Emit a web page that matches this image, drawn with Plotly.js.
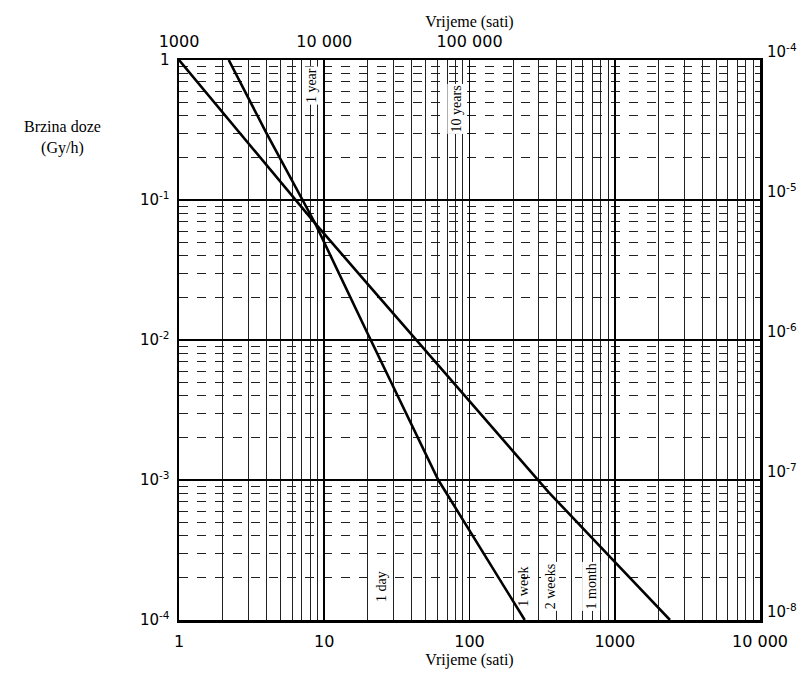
<!DOCTYPE html>
<html>
<head>
<meta charset="utf-8">
<script src="https://cdn.plot.ly/plotly-3.0.1.min.js"></script>
<style>html,body{margin:0;padding:0;background:#fff;}#chart{width:808px;height:673px;}</style>
</head>
<body>
<div id="chart"></div>
<script>
// ---- data ----
// Curve A: bottom axis (hours 1..10 000) / left axis (Gy/h 1e-4..1)
const curveAHours = [1, 2, 4, 8.6, 20, 50, 100, 350, 1000, 2400];
const curveADose  = [1, 0.42, 0.177, 0.0686, 0.025, 0.0084, 0.0037, 0.00082, 0.00026, 0.0001];
// Curve B: top axis (hours 1000..1e7) / right axis (Gy/h 1e-8..1e-4)
const curveBHours = [2200, 4000, 8630, 20000, 61000, 240000];
const curveBDose  = [1e-4, 3.0e-5, 6.85e-6, 1.1e-6, 1.0e-7, 1.0e-8];

const bottomTickVals = [1, 10, 100, 1000, 10000];
const bottomTickText = ['1', '10', '100', '1000', '10 000'];
const topTickVals = [1000, 10000, 100000, 1000000, 10000000];
const topTickText = ['1000', '10 000', '100 000', '', ''];
const leftTickVals = [1e-4, 1e-3, 1e-2, 1e-1, 1];
const leftTickText = ['10<sup>-4</sup>', '10<sup>-3</sup>', '10<sup>-2</sup>', '10<sup>-1</sup>', '1'];
const rightTickVals = [1e-8, 1e-7, 1e-6, 1e-5, 1e-4];
const rightTickText = ['10<sup>-8</sup>', '10<sup>-7</sup>', '10<sup>-6</sup>', '10<sup>-5</sup>', '10<sup>-4</sup>'];

const bottomEventLabels = ['1 day', '1 week', '2 weeks', '1 month'];
const bottomEventHours = [24, 168, 336, 720];
const topEventLabels = ['1 year', '10 years'];
const topEventHours = [8760, 87600];

const xTitle = 'Vrijeme (sati)';
const yTitle = 'Brzina doze<br>(Gy/h)';

// ---- build full log grids (1..9 per decade) ----
function logGrid(fromExp, toExp) {
  const v = [];
  for (let e = fromExp; e < toExp; e++) {
    for (let m = 1; m < 10; m++) v.push(m * Math.pow(10, e));
  }
  v.push(Math.pow(10, toExp));
  return v;
}
function withLabels(all, majors, labels) {
  return all.map(v => {
    const i = majors.findIndex(m => Math.abs(m - v) / m < 1e-9);
    return i >= 0 ? labels[i] : '';
  });
}
const xAll = logGrid(0, 4);
const yAll = logGrid(-4, 0);

const serif = 'Liberation Serif, Times New Roman, serif';
const sans = 'DejaVu Sans, Liberation Sans, sans-serif';

const traces = [
  {x: curveAHours, y: curveADose, xaxis: 'x', yaxis: 'y', mode: 'lines',
   line: {color: '#000', width: 2.6}, hoverinfo: 'skip', showlegend: false},
  {x: curveBHours, y: curveBDose, xaxis: 'x2', yaxis: 'y2', mode: 'lines',
   line: {color: '#000', width: 2.6}, hoverinfo: 'skip', showlegend: false}
];

const bottomShift = [2, 21, 4, -3];
const bottomBg = ['#fff', 'rgba(0,0,0,0)', '#fff', '#fff'];
const annotations = [];
bottomEventLabels.forEach((t, i) => annotations.push({
  text: t, xref: 'x', yref: 'paper', x: Math.log10(bottomEventHours[i]), y: 0.06,
  textangle: -90, showarrow: false, xanchor: 'center', yanchor: 'middle', xshift: bottomShift[i],
  font: {family: serif, size: 14, color: '#000'}, bgcolor: bottomBg[i]
}));
topEventLabels.forEach((t, i) => annotations.push({
  text: t, xref: 'x2', yref: 'paper', x: Math.log10(topEventHours[i]), y: i === 0 ? 0.955 : 0.912,
  textangle: -90, showarrow: false, xanchor: 'center', yanchor: 'middle', xshift: -5,
  font: {family: serif, size: 14, color: '#000'}, bgcolor: '#fff'
}));
annotations.push({
  text: yTitle, xref: 'paper', yref: 'paper', x: -0.2, y: 0.862,
  showarrow: false, xanchor: 'center', yanchor: 'middle', align: 'center',
  font: {family: serif, size: 16, color: '#000'}
});

const layout = {
  width: 808, height: 673,
  margin: {l: 179, r: 48, t: 60, b: 53},
  paper_bgcolor: '#fff', plot_bgcolor: '#fff',
  showlegend: false,
  font: {family: sans, color: '#000'},
  xaxis: {
    type: 'log', range: [0, 4], tickmode: 'array', tickvals: xAll,
    ticktext: withLabels(xAll, bottomTickVals, bottomTickText),
    showgrid: true, gridcolor: '#222', gridwidth: 1,
    showline: true, linecolor: '#000', linewidth: 2.5, mirror: true,
    ticks: '', zeroline: false, tickfont: {family: sans, size: 16},
    ticklabelstandoff: 5,
    title: {text: xTitle, font: {family: serif, size: 16}, standoff: 4}
  },
  xaxis2: {
    type: 'log', range: [3, 7], overlaying: 'x', side: 'top', anchor: 'y',
    tickmode: 'array', tickvals: topTickVals, ticktext: topTickText,
    showgrid: true, gridcolor: '#000', gridwidth: 1.6,
    showline: false, ticks: '', zeroline: false, tickfont: {family: sans, size: 16},
    ticklabelstandoff: 9,
    title: {text: xTitle, font: {family: serif, size: 16}, standoff: 0}
  },
  yaxis: {
    type: 'log', range: [-4, 0], tickmode: 'array', tickvals: yAll,
    ticktext: withLabels(yAll, leftTickVals, leftTickText),
    showgrid: true, gridcolor: '#222', gridwidth: 1, griddash: 'dash',
    showline: true, linecolor: '#000', linewidth: 2.5, mirror: true,
    ticks: '', zeroline: false, tickfont: {family: sans, size: 15},
    ticklabelstandoff: 4
  },
  yaxis2: {
    type: 'log', range: [-8, -4], overlaying: 'y', side: 'right', anchor: 'x',
    tickmode: 'array', tickvals: rightTickVals, ticktext: rightTickText,
    showgrid: true, gridcolor: '#000', gridwidth: 1.6,
    showline: false, ticks: '', zeroline: false, tickfont: {family: sans, size: 15},
    ticklabelstandoff: 6, ticklabelshift: -8
  },
  annotations: annotations
};

Plotly.newPlot('chart', traces, layout, {staticPlot: true, displayModeBar: false});
</script>
</body>
</html>
